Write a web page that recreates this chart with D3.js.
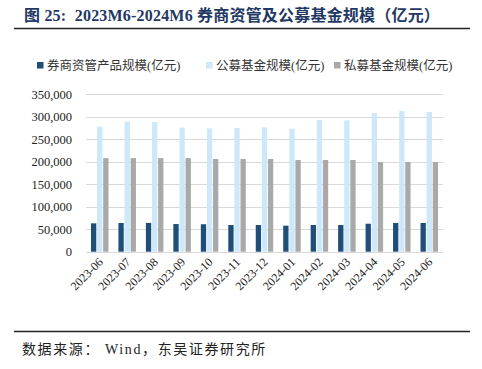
<!DOCTYPE html>
<html><head><meta charset="utf-8">
<script src="https://cdn.jsdelivr.net/npm/d3@7"></script>
<style>body{margin:0;background:#fff} text{white-space:pre}</style>
</head><body><svg id="c" width="482" height="369"></svg>
<script>
const categories = ["2023-06","2023-07","2023-08","2023-09","2023-10","2023-11","2023-12","2024-01","2024-02","2024-03","2024-04","2024-05","2024-06"];
const seriesNames = ["券商资管产品规模(亿元)","公募基金规模(亿元)","私募基金规模(亿元)"];
const brokerAM = [63000,63800,64000,61500,61000,59300,59300,57800,59300,59300,62200,63800,63800];
const publicFund = [278000,289000,288000,275600,274000,275000,276400,273400,292600,292000,308000,312700,310400];
const privateFund = [208000,208000,208000,208000,206000,206000,206000,203800,203800,203800,199300,199300,199300];
const yTicks = [0,50000,100000,150000,200000,250000,300000,350000];
const colors = ["#1F4E79","#CDE8FA","#A9A9A9"];

const svg = d3.select("#c");
const serif = "'Liberation Serif','Times New Roman',serif";
const cjk = "'Noto Sans CJK SC',sans-serif";

// title
svg.append("text").attr("x",24).attr("y",21).attr("fill","#1F3864")
  .attr("font-family",serif+","+cjk).attr("font-weight","bold").attr("font-size",16)
  .attr("letter-spacing",0.2)
  .text("图 25:  2023M6-2024M6 券商资管及公募基金规模（亿元）");
svg.append("line").attr("x1",14).attr("x2",470).attr("y1",28.5).attr("y2",28.5).attr("stroke","#222").attr("stroke-width",1.3);

// scales
const x = d3.scaleBand().domain(categories).range([86,443]);
const y = d3.scaleLinear().domain([0,350000]).range([251.7,94.2]);

// grid
svg.append("g").selectAll("line").data(yTicks).join("line")
  .attr("x1",86).attr("x2",443).attr("y1",d=>Math.round(y(d))+0.5).attr("y2",d=>Math.round(y(d))+0.5)
  .attr("stroke","#D9D9D9").attr("stroke-width",1);

// y axis labels
const ya = svg.append("g").attr("transform","translate(86,0)")
  .call(d3.axisLeft(y).tickValues(yTicks).tickSize(0).tickPadding(14).tickFormat(d3.format(",")));
ya.select(".domain").remove();
ya.selectAll("text").attr("font-family",serif).attr("font-size",12.5).attr("fill","#222");

// bars
const data = [brokerAM, publicFund, privateFund];
const bw = 5.3, gap = 0.8;
data.forEach((arr,si)=>{
  svg.append("g").selectAll("rect").data(arr).join("rect")
    .attr("x",(d,i)=>x(categories[i])+x.bandwidth()/2-(3*bw+2*gap)/2+si*(bw+gap))
    .attr("width",bw)
    .attr("y",d=>y(d)).attr("height",d=>y(0)-y(d))
    .attr("fill",colors[si]);
});

// x axis labels
const xa = svg.append("g").attr("transform","translate(0,251.7)")
  .call(d3.axisBottom(x).tickSize(0).tickPadding(0));
xa.select(".domain").remove();
xa.selectAll("text").attr("font-family",serif).attr("font-size",12).attr("fill","#222")
  .attr("text-anchor","end").attr("dy",0)
  .attr("transform","translate(4,11) rotate(-45)");

// legend
const legX = [37,206,334];
seriesNames.forEach((n,i)=>{
  svg.append("rect").attr("x",legX[i]).attr("y",62).attr("width",6.5).attr("height",6.5).attr("fill",colors[i]);
  svg.append("text").attr("x",legX[i]+10).attr("y",69.5).attr("font-family",serif+","+cjk).attr("font-size",12.5).attr("fill","#333").text(n);
});

// footer
svg.append("line").attr("x1",14).attr("x2",470).attr("y1",331.5).attr("y2",331.5).attr("stroke","#222").attr("stroke-width",1.3);
svg.append("text").attr("x",22).attr("y",354).attr("font-family",serif+","+cjk).attr("font-size",14).attr("fill","#222")
  .attr("letter-spacing",1.6)
  .text("数据来源： Wind，东吴证券研究所");
</script></body></html>
